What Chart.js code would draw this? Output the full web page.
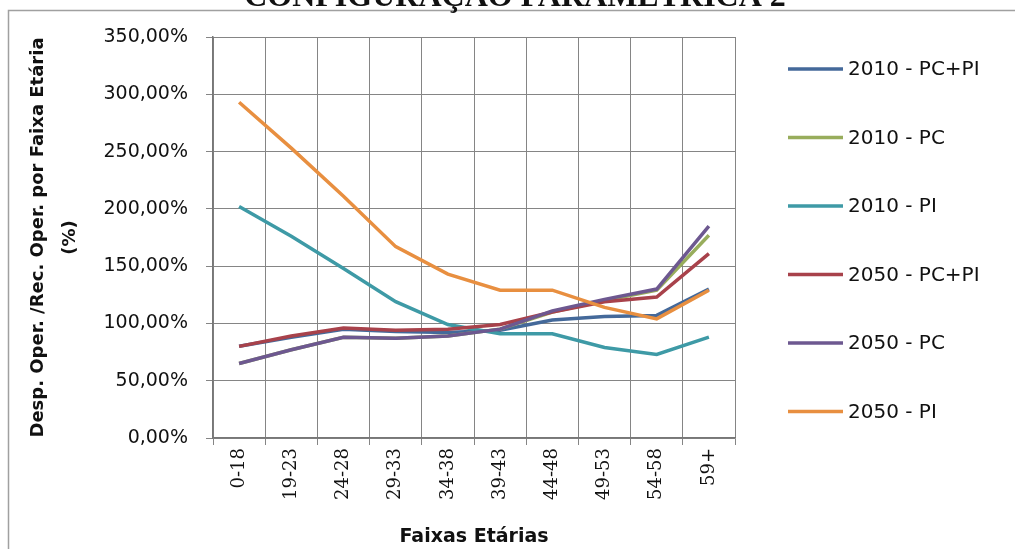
<!DOCTYPE html>
<html>
<head>
<meta charset="utf-8">
<style>
  html, body { margin: 0; padding: 0; background: #fff; }
  #wrap { width: 1015px; height: 549px; position: relative; }
</style>
<script src="https://cdn.jsdelivr.net/npm/chart.js@4/dist/chart.umd.min.js"></script>
</head>
<body>
<div id="wrap"><canvas id="chart"></canvas></div>
<script>
const faixas = ['0-18', '19-23', '24-28', '29-33', '34-38', '39-43', '44-48', '49-53', '54-58', '59+'];

const pcpi2010 = [80, 88, 95, 93, 92, 94, 103, 106, 107, 130];
const pc2010 = [65, 77, 88, 87, 89, 95, 110, 120, 129, 177];
const pi2010 = [202, 176, 148, 119, 99, 91, 91, 79, 73, 88];
const pcpi2050 = [80, 89, 96, 94, 95, 99, 110, 119, 123, 161];
const pc2050 = [65, 77, 88, 87, 89, 95, 111, 121, 130, 185];
const pi2050 = [293, 253, 211, 167, 143, 129, 129, 114, 104, 129];

const seriesNames = ['2010 - PC+PI', '2010 - PC', '2010 - PI', '2050 - PC+PI', '2050 - PC', '2050 - PI'];
const seriesValues = [pcpi2010, pc2010, pi2010, pcpi2050, pc2050, pi2050];
const seriesColors = ['#44699a', '#98ad5c', '#3e9aa6', '#a8424b', '#6d5890', '#e88f40'];

const gridColor = '#858585';

// frame round the whole picture + cut-off title at the top
const framePlugin = {
  id: 'frame',
  beforeDraw(chart) {
    const ctx = chart.ctx;
    ctx.save();
    ctx.fillStyle = '#fff';
    ctx.fillRect(0, 0, chart.width, chart.height);
    ctx.strokeStyle = '#a0a0a0';
    ctx.lineWidth = 1.5;
    ctx.strokeRect(8.5, 10.5, chart.width + 20, chart.height + 20);
    ctx.fillStyle = '#111';
    ctx.font = 'bold 32px "Liberation Serif"';
    ctx.textAlign = 'center';
    ctx.textBaseline = 'alphabetic';
    ctx.fillText('CONFIGURAÇÃO PARAMÉTRICA 2', 515, 6);
    ctx.restore();
  }
};

// legend on the right, one entry per dataset
const sideLegend = {
  id: 'sideLegend',
  afterDraw(chart) {
    const ctx = chart.ctx;
    ctx.save();
    chart.data.datasets.forEach((ds, i) => {
      const y = 69 + i * 68.5;
      ctx.strokeStyle = ds.borderColor;
      ctx.lineWidth = 3.5;
      ctx.beginPath();
      ctx.moveTo(788, y);
      ctx.lineTo(843, y);
      ctx.stroke();
      ctx.fillStyle = '#111';
      ctx.font = '20px "DejaVu Sans"';
      ctx.textAlign = 'left';
      ctx.textBaseline = 'middle';
      ctx.fillText(ds.label, 848, y + 1);
    });
    ctx.restore();
  }
};

new Chart(document.getElementById('chart'), {
  type: 'line',
  data: {
    labels: faixas,
    datasets: seriesNames.map((name, i) => ({
      label: name,
      data: seriesValues[i],
      borderColor: seriesColors[i],
      backgroundColor: seriesColors[i],
      borderWidth: 3.5,
      pointRadius: 0,
      tension: 0,
      order: seriesNames.length - i,
    })),
  },
  options: {
    responsive: true,
    maintainAspectRatio: false,
    animation: false,
    layout: { padding: { left: 8, top: 37, right: 280, bottom: 0 } },
    plugins: {
      legend: { display: false },
      tooltip: { enabled: false },
    },
    scales: {
      x: {
        offset: true,
        grid: { offset: true, color: gridColor, lineWidth: 1, tickLength: 7 },
        border: { color: '#777', width: 1.5 },
        ticks: {
          minRotation: 90,
          maxRotation: 90,
          padding: 3,
          color: '#111',
          font: { family: 'DejaVu Serif', size: 18 },
        },
        title: {
          display: true,
          text: 'Faixas Etárias',
          color: '#111',
          padding: { top: 2, bottom: 1 },
          font: { family: 'DejaVu Sans', size: 19, weight: 'bold' },
        },
        afterFit: (s) => { s.height = 111; },
      },
      y: {
        min: 0,
        max: 350,
        grid: { color: gridColor, lineWidth: 1, tickLength: 7 },
        border: { color: '#777', width: 1.5 },
        ticks: {
          stepSize: 50,
          padding: 18,
          color: '#111',
          font: { family: 'DejaVu Sans', size: 19 },
          callback: (v) => v.toFixed(2).replace('.', ',') + '%',
        },
        title: {
          display: true,
          text: ['Desp. Oper. /Rec. Oper. por Faixa Etária', '(%)'],
          color: '#111',
          padding: { top: 14, bottom: 0 },
          font: { family: 'DejaVu Sans', size: 18, weight: 'bold', lineHeight: 1.8 },
        },
        afterFit: (s) => { s.width = 205; },
      },
    },
  },
  plugins: [framePlugin, sideLegend],
});
</script>
</body>
</html>
